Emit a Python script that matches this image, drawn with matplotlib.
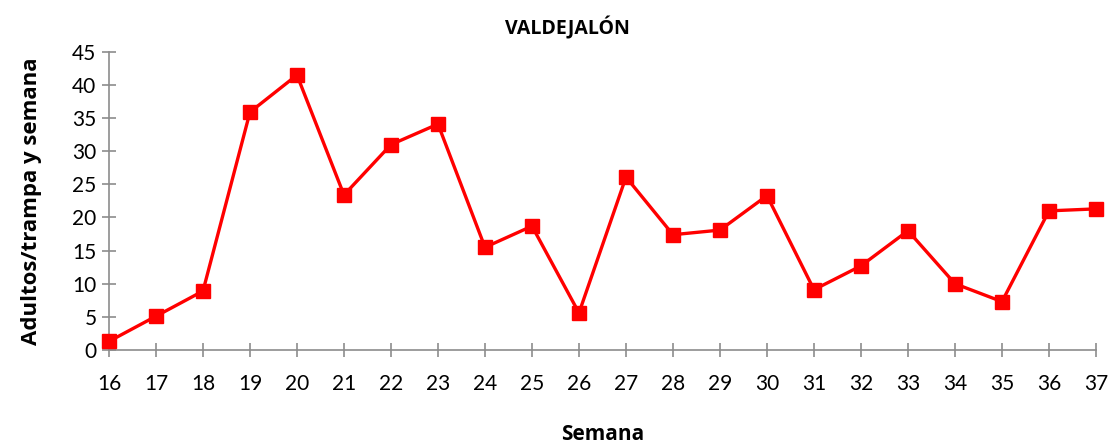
import numpy as np
import matplotlib.pyplot as plt

plt.rcParams['font.family'] = ['Lato', 'DejaVu Sans']

# datos
semanas = list(range(16, 38))
adultos = [1.3, 5.1, 8.9, 35.9, 41.5, 23.4, 31.0, 34.1, 15.5, 18.7, 5.6,
           26.1, 17.4, 18.1, 23.3, 9.1, 12.7, 18.0, 10.0, 7.3, 21.0, 21.3]
y_ticks = list(range(0, 50, 5))

fig = plt.figure(figsize=(11.12, 4.47), dpi=100)
ax = fig.add_axes([0.098, 0.217, 0.8876, 0.667])

ax.plot(semanas, adultos, color='#FF0000', linewidth=2.4, marker='s',
        markersize=10, clip_on=False, zorder=3)

ax.set_xlim(16, 37)
ax.set_ylim(0, 45)
ax.set_xticks(semanas)
ax.set_yticks(y_ticks)

for s in ['top', 'right']:
    ax.spines[s].set_visible(False)
for s in ['left', 'bottom']:
    ax.spines[s].set_color('#8c8c8c')
    ax.spines[s].set_linewidth(1.2)
ax.tick_params(axis='both', direction='inout', length=10, width=1.2,
               color='#8c8c8c', labelsize=15, labelcolor='black')
ax.tick_params(axis='x', pad=12)
ax.tick_params(axis='y', pad=4)

bold = dict(family=['Open Sans', 'DejaVu Sans'], fontweight='bold')
fig.text(0.51, 0.937, 'VALDEJALÓN', fontsize=14, ha='center', va='center', **bold)
ax.set_xlabel('Semana', fontsize=15, labelpad=22, **bold)
ax.set_ylabel('Adultos/trampa y semana', fontsize=16, labelpad=22, **bold)

fig.savefig('out.png', dpi=100)
